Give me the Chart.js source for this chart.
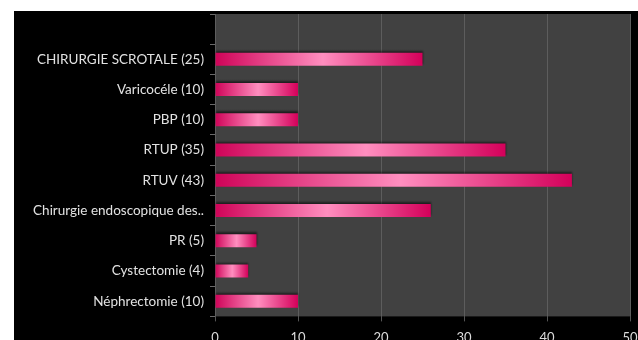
<!DOCTYPE html>
<html>
<head>
<meta charset="utf-8">
<script src="https://cdn.jsdelivr.net/npm/chart.js@4.4.1/dist/chart.umd.min.js"></script>
<style>
    html, body {
        margin: 0;
        padding: 0;
        background: #fff;
        width: 638px;
        height: 340px;
        overflow: hidden;
    }
    #frame {
        position: absolute;
        left: 14px;
        top: 11px;
        width: 624px;
        height: 329px;
        background: #000;
        overflow: hidden;
    }
    #chart { position: absolute; left: 0; top: 0; display: block; }
</style>
</head>
<body>
<div id="frame">
    <canvas id="chart" width="624" height="348"></canvas>
</div>
<script>
// categories, top to bottom (first band is empty in the original)
const categories = [
    "",
    "CHIRURGIE SCROTALE (25)",
    "Varicocéle (10)",
    "PBP (10)",
    "RTUP (35)",
    "RTUV (43)",
    "Chirurgie endoscopique des..",
    "PR (5)",
    "Cystectomie (4)",
    "Néphrectomie (10)"
];
const interventions = [null, 25, 10, 10, 35, 43, 26, 5, 4, 10];
const xTicks = [0, 10, 20, 30, 40, 50];

// grey plot background + shadow above the bars
const plotBg = {
    id: "plotBg",
    beforeDraw(chart) {
        const { ctx, chartArea: a } = chart;
        ctx.save();
        ctx.fillStyle = "#414141";
        ctx.fillRect(a.left, a.top, a.right - a.left, a.bottom - a.top);
        ctx.restore();
    },
    beforeDatasetsDraw(chart) {
        const ctx = chart.ctx;
        ctx.save();
        ctx.shadowColor = "rgba(0,0,0,0.55)";
        ctx.shadowBlur = 2;
        ctx.shadowOffsetY = -2;
    },
    afterDatasetsDraw(chart) {
        chart.ctx.restore();
    }
};

function barGradient(context) {
    const chart = context.chart;
    if (!chart.chartArea || context.type !== "data" || context.raw == null) {
        return "#e8287c";
    }
    const x = chart.scales.x;
    const x0 = x.getPixelForValue(0);
    const x1 = x.getPixelForValue(context.raw);
    const g = chart.ctx.createLinearGradient(x0, 0, x1, 0);
    g.addColorStop(0, "#cf0358");
    g.addColorStop(0.52, "#ff8ebf");
    g.addColorStop(1, "#d4005a");
    return g;
}

new Chart(document.getElementById("chart"), {
    type: "bar",
    data: {
        labels: categories,
        datasets: [{
            data: interventions,
            backgroundColor: barGradient,
            borderWidth: 0,
            categoryPercentage: 1,
            barPercentage: 0.43
        }]
    },
    options: {
        indexAxis: "y",
        responsive: false,
        animation: false,
        devicePixelRatio: 1,
        layout: { padding: { top: 3, right: 8, bottom: 4, left: 0 } },
        plugins: {
            legend: { display: false },
            tooltip: { enabled: false }
        },
        scales: {
            x: {
                min: 0,
                max: 50,
                afterBuildTicks: (scale) => {
                    scale.ticks = xTicks.map((v) => ({ value: v }));
                },
                afterFit: (scale) => {
                    // no extra room for the end labels, the frame clips them
                    scale.paddingLeft = 0;
                    scale.paddingRight = 0;
                },
                grid: {
                    color: "#5d5d5d",
                    lineWidth: 1,
                    tickLength: 5,
                    tickColor: "#555"
                },
                border: { display: false },
                ticks: {
                    color: "#dcdcdc",
                    padding: 9,
                    font: { family: "Lato", size: 13 }
                }
            },
            y: {
                afterFit: (scale) => {
                    scale.width = 201;
                    scale.paddingTop = 0;
                    scale.paddingBottom = 0;
                },
                grid: {
                    offset: true,
                    drawOnChartArea: false,
                    tickLength: 5,
                    tickColor: "#6a6a6a"
                },
                border: { display: false },
                ticks: {
                    color: "#e2e2e2",
                    padding: 6,
                    font: { family: "Lato", size: 13.5 }
                }
            }
        }
    },
    plugins: [plotBg]
});
</script>
</body>
</html>
